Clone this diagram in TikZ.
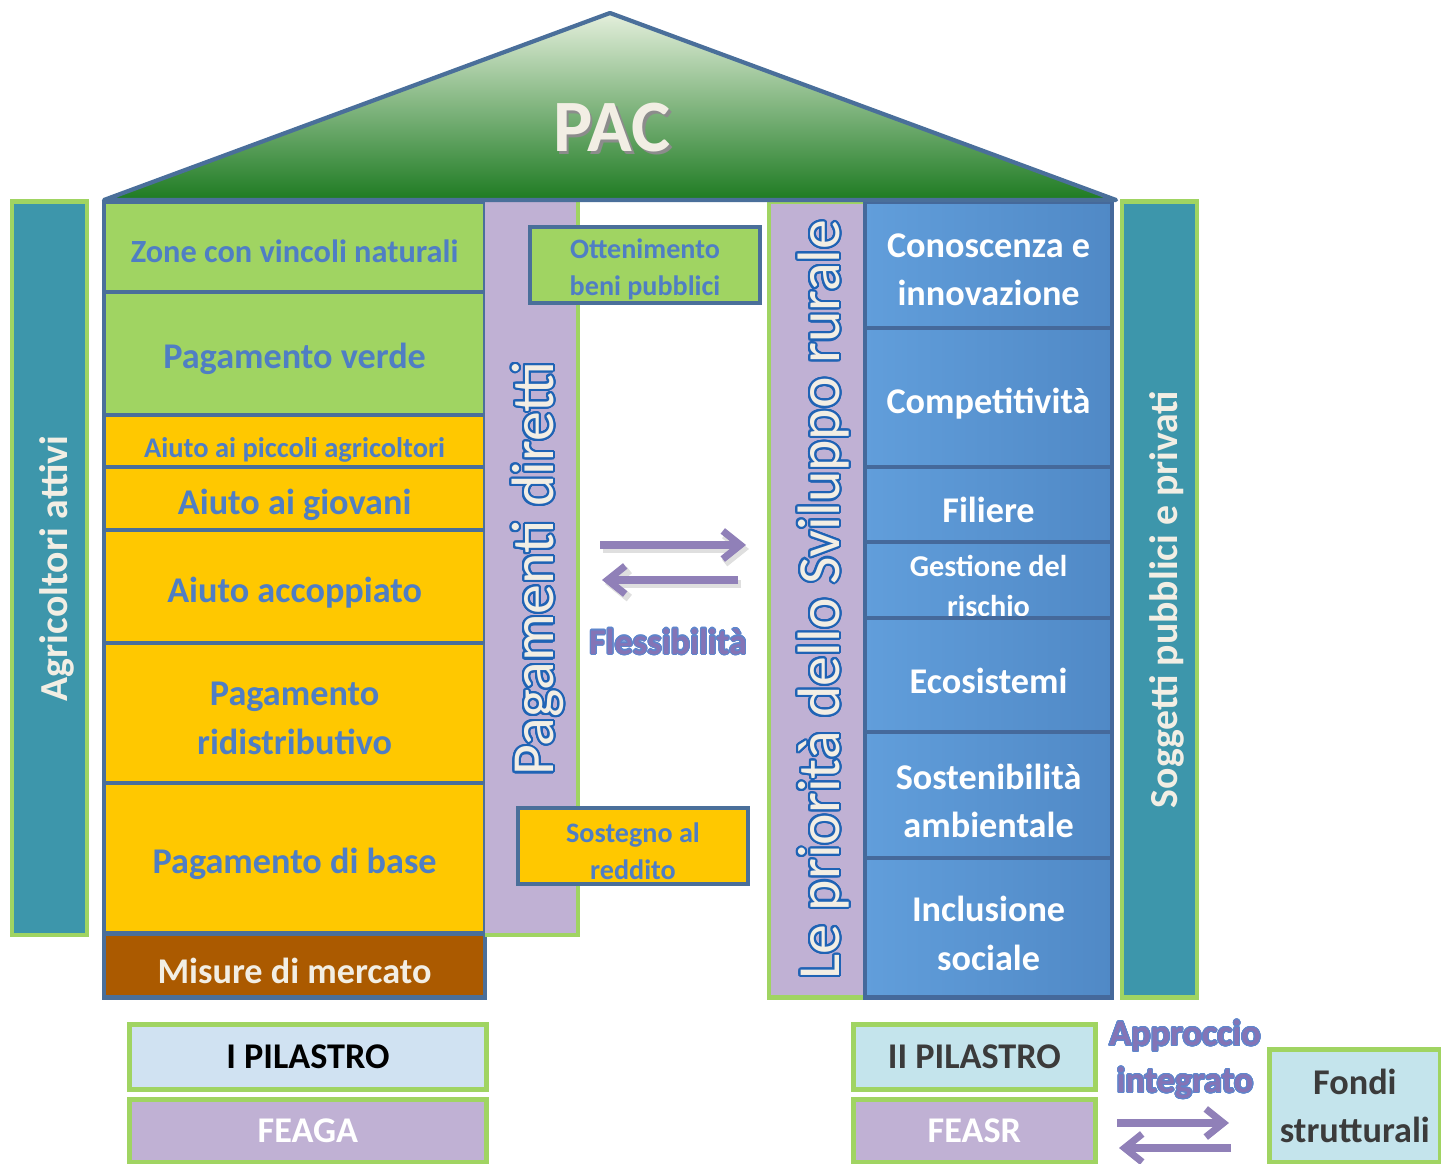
\documentclass[tikz,border=0pt]{standalone}
\usepackage{fontspec}
\setmainfont{Carlito}
\usepackage{contour}
\usetikzlibrary{arrows.meta,positioning}
\contourlength{0.6pt}
\contournumber{24}
\definecolor{roofblue}{HTML}{4A6F9A}
\definecolor{prioline}{HTML}{45699B}
\definecolor{leaf}{HTML}{A0D462}
\definecolor{sun}{HTML}{FFC800}
\definecolor{rust}{HTML}{AB5A00}
\definecolor{lilac}{HTML}{C0B1D4}
\definecolor{pillarteal}{HTML}{3D96AB}
\definecolor{txtblue}{HTML}{4F7EC4}
\definecolor{cream}{HTML}{F2EEE4}
\definecolor{skyA}{HTML}{619EDB}
\definecolor{skyB}{HTML}{4A7EB6}
\definecolor{skyC}{HTML}{5089C6}
\definecolor{paleblue}{HTML}{D0E2F2}
\definecolor{palecyan}{HTML}{C4E4EC}
\definecolor{arrowlilac}{HTML}{9080B8}
\definecolor{flextxt}{HTML}{8474B6}
\definecolor{flexline}{HTML}{5F86CC}
\definecolor{outlineblue}{HTML}{1F63B5}
\definecolor{deepgreen}{HTML}{1E7B22}
\definecolor{palegreen}{HTML}{E4EFDC}
\definecolor{inkgray}{HTML}{3B3B3B}
\newcommand{\normsz}{\fontsize{10.3}{13.8}\selectfont}
\newcommand{\smallsz}{\fontsize{8}{10.5}\selectfont}
\newcommand{\flexword}[1]{{\contourlength{0.3pt}\color{flextxt}\contour{flexline}{#1}}}
\newcommand{\pillarword}[1]{{\color{cream}\contour{outlineblue}{#1}}}
\newcommand{\topstrut}[1]{\rule{0pt}{#1}}

\begin{document}
\begin{tikzpicture}[x=0.01cm, y=-0.01cm, node distance=0cm,
  lift/.style={execute at begin node=\rule{0pt}{#1}},
  cell/.style={draw=roofblue, line width=1.2pt, minimum width=3.81cm, inner sep=0pt, outer sep=0pt, text=txtblue, font=\bfseries\normsz, align=center},
  row/.style={cell, lift=10.5pt},
  prio/.style={draw=prioline, line width=1.2pt, left color=skyA, middle color=skyB, right color=skyC, minimum width=2.47cm, inner sep=0pt, outer sep=0pt, text=white, font=\bfseries\normsz, align=center, lift=10.5pt},
  tag/.style={draw=roofblue, line width=1.3pt, minimum width=2.3cm, minimum height=0.76cm, inner sep=0pt, text=txtblue, font=\bfseries\smallsz, align=center},
  side/.style={draw=leaf, line width=1.3pt, fill=pillarteal, rotate=90, inner sep=0pt, text=cream, font=\bfseries\fontsize{11.3}{13}\selectfont, lift=12pt},
  upright/.style={rotate=90, inner sep=0pt, outer sep=0pt, font=\fontsize{17}{19}\selectfont, lift=16pt},
  base/.style={draw=leaf, line width=1.3pt, inner sep=0pt, font=\bfseries\normsz, align=center},
  flex/.style={arrowlilac, line width=2pt, -{Straight Barb[length=5pt,width=8pt]}}
]
\useasboundingbox (0,0) rectangle (1441,1164);

% side pillars
\node[side, minimum width=7.33cm, minimum height=0.75cm] (attivi) at (49.5,568.5) {Agricoltori attivi};
\node[side, minimum width=7.95cm, minimum height=0.75cm] (soggetti) at (1159.5,599.5) {Soggetti pubblici e privati};

% first pillar
\node[cell, fill=leaf, minimum height=0.90cm, anchor=north west, lift=8.8pt] (zone) at (104,202) {\fontsize{9.2}{11}\selectfont Zone con vincoli naturali};
\node[row, fill=leaf, minimum height=1.23cm, below=of zone] (verde) {Pagamento verde};
\node[row, fill=sun, minimum height=0.52cm, below=of verde] (piccoli) {\fontsize{8.1}{10}\selectfont Aiuto ai piccoli agricoltori};
\node[row, fill=sun, minimum height=0.63cm, below=of piccoli] (giovani) {Aiuto ai giovani};
\node[row, fill=sun, minimum height=1.13cm, below=of giovani] (accoppiato) {Aiuto accoppiato};
\node[row, fill=sun, minimum height=1.40cm, below=of accoppiato] (ridistr) {\topstrut{9.5pt}Pagamento\\ridistributivo};
\node[row, fill=sun, minimum height=1.50cm, below=of ridistr] (basepay) {Pagamento di base};
\node[row, fill=rust, minimum height=0.64cm, below=of basepay, text=cream] (mercato) {Misure di mercato};

\node[upright, fill=lilac, minimum width=7.33cm, minimum height=0.93cm] (diretti) at (531.5,568.5) {\pillarword{Pagamenti diretti}};
\draw[leaf, line width=1.3pt] (diretti.south east) -- (diretti.south west) -- (diretti.north west);

\node[tag, fill=leaf] (beni) at (645,265) {\topstrut{8pt}Ottenimento\\beni pubblici};
\node[tag, fill=sun] (reddito) at (633,846) {\topstrut{8.8pt}Sostegno al\\reddito};

% flessibilita
\coordinate (fa) at (600,545);
\coordinate (fb) at (746,545);
\coordinate (fc) at (738,580);
\coordinate (fd) at (602,580);
\draw[flex, gray!25, line width=2.4pt] ([shift={(3,4)}]fa) -- ([shift={(3,4)}]fb);
\draw[flex, gray!25, line width=2.4pt] ([shift={(3,4)}]fc) -- ([shift={(3,4)}]fd);
\draw[flex] (fa) -- (fb);
\draw[flex] (fc) -- (fd);
\node[font=\bfseries\fontsize{10.3}{12}\selectfont] (flessib) at (668,642) {\flexword{Flessibilità}};

% second pillar
\node[upright, fill=lilac, draw=leaf, line width=1.3pt, minimum width=7.95cm, minimum height=0.96cm] (rurale) at (817,599.5) {\pillarword{Le priorità dello Sviluppo rurale}};

\node[prio, minimum height=1.26cm, anchor=north west] (conosc) at (865,202) {\topstrut{9.5pt}Conoscenza e\\innovazione};
\node[prio, minimum height=1.39cm, below=of conosc] (compet) {Competitività};
\node[prio, minimum height=0.75cm, below=of compet] (filiere) {Filiere};
\node[prio, minimum height=0.76cm, below=of filiere] (rischio) {};
\node[text=white, font=\bfseries\fontsize{8.6}{11.4}\selectfont, align=center, inner sep=0pt] (rischiotxt) at ([yshift=-1.6pt]rischio.center) {Gestione del\\rischio};
\node[prio, minimum height=1.14cm, below=of rischio] (ecosist) {Ecosistemi};
\node[prio, minimum height=1.26cm, below=of ecosist] (sostenib) {\topstrut{10.5pt}Sostenibilità\\ambientale};
\node[prio, minimum height=1.39cm, below=of sostenib] (inclus) {\topstrut{10.5pt}Inclusione\\sociale};

% roof
\shade[top color=palegreen, bottom color=deepgreen] (104,200) -- (610,13) -- (1116,200) -- cycle;
\draw[roofblue, line width=1.2pt, line join=round] (104,200) -- (610,13) -- (1116,200) -- cycle;
\node[text=black!45, font=\bfseries\fontsize{21}{24}\selectfont] (pacshade) at (614.5,130.5) {PAC};
\node[text=cream, font=\bfseries\fontsize{21}{24}\selectfont] (pac) at (612,128) {PAC};

% funds
\node[base, fill=paleblue, minimum width=3.57cm, minimum height=0.65cm, anchor=north west] (pil1) at (127,1022) {I PILASTRO};
\node[base, fill=lilac, text=white, minimum width=3.57cm, minimum height=0.63cm, anchor=north west] (feaga) at (127,1097) {FEAGA};
\node[base, fill=palecyan, text=inkgray, minimum width=2.42cm, minimum height=0.65cm, anchor=north west] (pil2) at (851,1022) {II PILASTRO};
\node[base, fill=lilac, text=white, minimum width=2.42cm, minimum height=0.63cm, anchor=north west] (feasr) at (851,1097) {FEASR};
\node[base, fill=palecyan, text=inkgray, minimum width=1.71cm, minimum height=1.13cm, anchor=north west] (fondi) at (1267,1047) {Fondi\\strutturali};

\node[font=\bfseries\fontsize{10.3}{13.4}\selectfont, align=center] (approccio) at (1185,1060) {\flexword{Approccio}\\\flexword{integrato}};
\coordinate (ia) at (1117,1123);
\coordinate (ib) at (1229,1123);
\coordinate (ic) at (1231,1148);
\coordinate (id) at (1119,1148);
\draw[flex] (ia) -- (ib);
\draw[flex] (ic) -- (id);
\end{tikzpicture}
\end{document}
